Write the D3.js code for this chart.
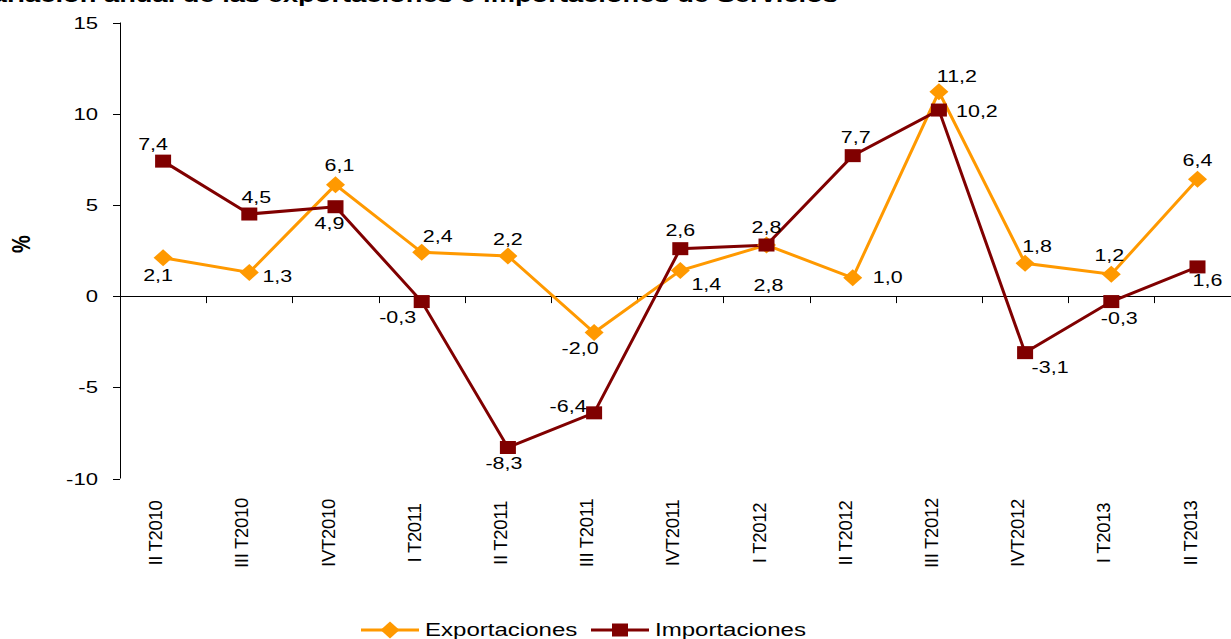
<!DOCTYPE html>
<html>
<head>
<meta charset="utf-8">
<script src="https://cdn.jsdelivr.net/npm/d3@7"></script>
<style>
  body { margin: 0; background: #fff; }
  text { font-family: "Liberation Sans", Arial, sans-serif; fill: #000; }
</style>
</head>
<body>
<div id="chart"></div>
<script>
var categories = ["II T2010", "III T2010", "IVT2010", "I T2011", "II T2011", "III T2011", "IVT2011",
                  "I T2012", "II T2012", "III T2012", "IVT2012", "I T2013", "II T2013"];
var exportaciones = [2.1, 1.3, 6.1, 2.4, 2.2, -2.0, 1.4, 2.8, 1.0, 11.2, 1.8, 1.2, 6.4];
var importaciones = [7.4, 4.5, 4.9, -0.3, -8.3, -6.4, 2.6, 2.8, 7.7, 10.2, -3.1, -0.3, 1.6];
var yTicks = [-10, -5, 0, 5, 10, 15];

// label placement (dx, dy from the marker), as the original chart had them
var expLabelOff = [[-5, 18], [28, 4], [4, -19], [16, -16], [0, -17], [-14, 16], [26, 14],
                   [2, 40], [35, 0], [18, -15], [12, -17], [-2, -19], [0, -19]];
var impLabelOff = [[-10, -17], [7, -17], [-6, 17], [-24, 16], [-4, 16], [-26, -6], [0, -18],
                   [0, -18], [3, -18], [38, 1], [25, 15], [8, 17], [10, 13]];

var W = 1231, H = 639;
var left = 120, band = 86.2;
var stretch = 1.3; // the original picture is wider than tall, text comes out stretched

var svg = d3.select("#chart").append("svg")
    .attr("width", W).attr("height", H);

var x = d3.scaleBand()
    .domain(categories)
    .range([left, left + band * categories.length]);

var y = d3.scaleLinear()
    .domain([-10, 15])
    .range([478.5, 22.5]);

var cx = function(i) { return x(categories[i]) + x.bandwidth() / 2; };
var fmt = function(v) { return v.toFixed(1).replace(".", ","); };

function wideText(px, py, str, size, anchor) {
    return svg.append("text")
        .attr("transform", "translate(" + px + "," + py + ") scale(" + stretch + ",1)")
        .attr("text-anchor", anchor || "middle")
        .attr("dominant-baseline", "central")
        .style("font-size", size + "px")
        .text(str);
}

// title, cut at the top of the picture
wideText(838, -5, "Variación anual de las exportaciones e importaciones de Servicios", 21, "end")
    .style("font-weight", "bold");

// y axis
svg.append("line")
    .attr("x1", left + 0.5).attr("x2", left + 0.5)
    .attr("y1", y(15)).attr("y2", y(-10))
    .attr("stroke", "#000");
yTicks.forEach(function(t) {
    svg.append("line")
        .attr("x1", left - 7).attr("x2", left)
        .attr("y1", Math.round(y(t)) + 0.5).attr("y2", Math.round(y(t)) + 0.5)
        .attr("stroke", "#000");
    wideText(98, y(t), String(t), 17, "end");
});

svg.append("text")
    .attr("transform", "translate(30,244) rotate(-90) scale(1," + stretch + ")")
    .attr("text-anchor", "middle")
    .style("font-size", "20px").style("font-weight", "bold")
    .text("%");

// zero line with category ticks
svg.append("line")
    .attr("x1", left).attr("x2", W)
    .attr("y1", Math.round(y(0)) + 0.5).attr("y2", Math.round(y(0)) + 0.5)
    .attr("stroke", "#000").attr("stroke-width", 1);

svg.selectAll(".ctick")
    .data(categories.slice(1))
    .enter().append("line")
    .attr("x1", function(d) { return Math.round(x(d)) + 0.5; })
    .attr("x2", function(d) { return Math.round(x(d)) + 0.5; })
    .attr("y1", y(0)).attr("y2", y(0) + 7)
    .attr("stroke", "#000");

// category labels
svg.selectAll(".clabel")
    .data(categories)
    .enter().append("text")
    .attr("transform", function(d, i) { return "translate(" + (cx(i) - 1) + ",533) rotate(-90)"; })
    .attr("text-anchor", "middle")
    .style("font-size", "18.5px")
    .style("letter-spacing", "-0.3px")
    .text(function(d) { return d; });

var line = d3.line()
    .x(function(d, i) { return cx(i); })
    .y(function(d) { return y(d); });

var series = [
    { name: "Exportaciones", values: exportaciones, color: "#FF9900", marker: "diamond", off: expLabelOff },
    { name: "Importaciones", values: importaciones, color: "#800000", marker: "square", off: impLabelOff }
];

function marker(g, type, color) {
    if (type === "diamond") {
        g.append("path").attr("d", "M0,-8.5L9.5,0L0,8.5L-9.5,0Z").attr("fill", color);
    } else {
        g.append("rect").attr("x", -8).attr("y", -6.5).attr("width", 16).attr("height", 13).attr("fill", color);
    }
}

series.forEach(function(s) {
    svg.append("path")
        .attr("d", line(s.values))
        .attr("fill", "none")
        .attr("stroke", s.color)
        .attr("stroke-width", 3);
});

series.forEach(function(s) {
    s.values.forEach(function(v, i) {
        var g = svg.append("g").attr("transform", "translate(" + cx(i) + "," + y(v) + ")");
        marker(g, s.marker, s.color);
    });
});

series.forEach(function(s) {
    s.values.forEach(function(v, i) {
        wideText(cx(i) + s.off[i][0], y(v) + s.off[i][1], fmt(v), 16.5);
    });
});

// legend
var legend = [
    { name: "Exportaciones", color: "#FF9900", marker: "diamond", x: 361 },
    { name: "Importaciones", color: "#800000", marker: "square", x: 591 }
];
legend.forEach(function(l) {
    var g = svg.append("g").attr("transform", "translate(" + l.x + ",630)");
    g.append("line").attr("x1", 0).attr("x2", 58).attr("stroke", l.color).attr("stroke-width", 3);
    var m = g.append("g").attr("transform", "translate(29,0)");
    marker(m, l.marker, l.color);
    wideText(l.x + 64, 630, l.name, 18.5, "start");
});
</script>
</body>
</html>
